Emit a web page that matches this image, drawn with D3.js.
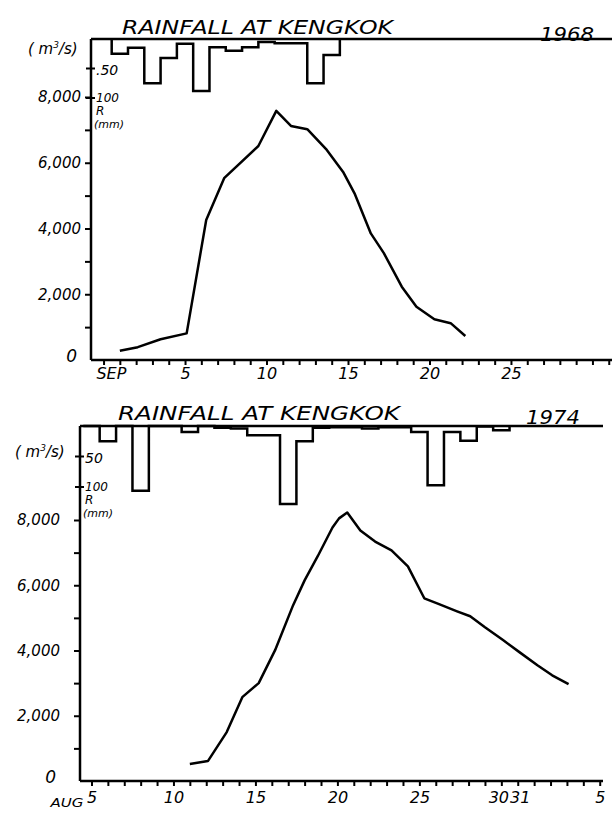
<!DOCTYPE html>
<html>
<head>
<meta charset="utf-8">
<script src="https://cdn.jsdelivr.net/npm/d3@7"></script>
<style>
  body { margin: 0; background: #fff; }
  svg text { font-family: "DejaVu Sans", sans-serif; font-style: italic; fill: #000; }
</style>
</head>
<body>
<svg id="chart"></svg>
<script>
// 1968 panel - September days
let days1968 = [1.0, 2.1, 3.5, 5.1, 6.3, 7.4, 9.5, 10.6, 11.5, 12.5, 13.7, 14.7, 15.4, 16.4, 17.2, 18.3, 19.2, 20.3, 21.3, 22.2];
let flow1968 = [280, 390, 630, 810, 4260, 5530, 6510, 7580, 7120, 7020, 6390, 5720, 5070, 3850, 3250, 2230, 1620, 1240, 1120, 730];
let rainDays1968 = d3.range(1, 15);
let rain1968 = [25, 15, 75, 32, 8, 88, 14, 20, 14, 5, 7, 7, 75, 27];
let dayLabels1968 = { 1: "SEP", 5: "5", 10: "10", 15: "15", 20: "20", 25: "25" };

// 1974 panel - August days (32 = Sep 1)
let days1974 = [11.0, 12.1, 13.25, 14.2, 15.2, 16.2, 17.3, 18.0, 18.8, 19.7, 20.1, 20.6, 21.4, 22.3, 23.3, 24.3, 25.3, 26.2, 27.3, 28.1, 29.0, 30.1, 31.1, 32.2, 33.1, 34.1];
let flow1974 = [520, 610, 1500, 2570, 3000, 4010, 5390, 6150, 6890, 7770, 8050, 8230, 7680, 7340, 7070, 6580, 5600, 5420, 5200, 5050, 4710, 4320, 3950, 3550, 3240, 2970];
let rainDays1974 = d3.range(5, 31);
let rain1974 = [0, 25, 0, 106, 0, 0, 10, 0, 3, 4, 15, 15, 128, 25, 3, 2, 2, 4, 2, 2, 10, 97, 10, 24, 1, 7];
let dayLabels1974 = { 5: "5", 10: "10", 15: "15", 20: "20", 25: "25", 30: "30", 31: "31", 36: "5" };

let flowTicks = d3.range(0, 8001, 1000);
let rainTicks = [50, 100];

const width = 614;
const height = 817;

const svg = d3.select("#chart")
    .attr("width", width)
    .attr("height", height);

function drawPanel(p) {
    const g = svg.append("g");

    let x = d3.scaleLinear().domain(p.xDomain).range([p.left, p.right]);
    let y = d3.scaleLinear().domain([0, 8000]).range([p.bottom, p.y8000]);
    let yR = d3.scaleLinear().domain([0, 100]).range([p.top, p.y100]);

    // frame: top line + left axis
    g.append("line")
        .attr("x1", p.left).attr("x2", p.right)
        .attr("y1", p.top).attr("y2", p.top)
        .attr("stroke", "#000").attr("stroke-width", 2.5);
    g.append("line")
        .attr("x1", p.left).attr("x2", p.left)
        .attr("y1", p.top).attr("y2", p.bottom)
        .attr("stroke", "#000").attr("stroke-width", 2.5);

    // x axis
    let xAxis = d3.axisBottom(x)
        .tickValues(d3.range(p.firstTick, p.lastTick + 1))
        .tickSize(5)
        .tickPadding(p.xPad)
        .tickFormat(d => p.labels[d] || "");
    let xg = g.append("g")
        .attr("transform", `translate(0,${p.bottom})`)
        .call(xAxis);
    xg.select(".domain").remove();
    xg.append("line")
        .attr("x1", p.left).attr("x2", p.right)
        .attr("stroke", "#000").attr("stroke-width", 2.5);
    xg.selectAll(".tick line").attr("stroke-width", 2);
    xg.selectAll("text")
        .attr("font-size", 16)
        .attr("font-family", "DejaVu Sans, sans-serif");
    if (p.xLabelShift) {
        xg.selectAll("text").attr("dx", d => p.xLabelShift[d] || 0);
    }

    // flow axis
    let yAxis = d3.axisLeft(y)
        .tickValues(flowTicks)
        .tickSize(6)
        .tickPadding(p.yPad)
        .tickFormat(d => d % 2000 == 0 ? (d == 0 ? "0" : d3.format(",")(d)) : "");
    let yg = g.append("g")
        .attr("transform", `translate(${p.left},0)`)
        .call(yAxis);
    yg.select(".domain").remove();
    yg.selectAll(".tick line").attr("stroke-width", 2);
    yg.selectAll("text")
        .attr("font-size", 15)
        .attr("font-family", "DejaVu Sans, sans-serif");
    yg.selectAll(".tick").filter(d => d == 0).select("line").remove();
    yg.selectAll(".tick").filter(d => d == 0).select("text")
        .attr("dx", -4).attr("dy", "0.1em").attr("font-size", 17);

    // rain axis crosses + labels
    g.selectAll(".rtick")
        .data(rainTicks)
        .enter()
        .append("line")
        .attr("x1", p.left - 5).attr("x2", p.left + 4)
        .attr("y1", d => yR(d)).attr("y2", d => yR(d))
        .attr("stroke", "#000").attr("stroke-width", 2);
    g.append("text")
        .attr("x", p.left + 5)
        .attr("y", yR(50) + 6)
        .attr("font-size", 14)
        .text(p.dot50 ? ".50" : "50");
    // 100 / R / (mm) stacked
    g.append("text")
        .attr("x", p.left + 5).attr("y", yR(100) + 4)
        .attr("font-size", 12).text("100");
    g.append("text")
        .attr("x", p.left + 5).attr("y", yR(100) + 17)
        .attr("font-size", 12).text("R");
    g.append("text")
        .attr("x", p.left + 3).attr("y", yR(100) + 30)
        .attr("font-size", 11).text("(mm)");

    // flow unit
    let u = g.append("text")
        .attr("x", p.unitX).attr("y", p.unitY)
        .attr("font-size", 15);
    u.append("tspan").text("( m");
    u.append("tspan").attr("font-size", 9).attr("dy", -6).text("3");
    u.append("tspan").attr("dy", 6).text("/s)");

    // title
    g.append("text")
        .attr("x", p.titleX).attr("y", p.titleY)
        .attr("font-size", 19)
        .attr("textLength", p.titleW)
        .attr("lengthAdjust", "spacingAndGlyphs")
        .text("RAINFALL  AT  KENGKOK");
    g.append("text")
        .attr("x", p.yearX).attr("y", p.yearY)
        .attr("font-size", 19)
        .attr("textLength", 54)
        .attr("lengthAdjust", "spacingAndGlyphs")
        .text(p.year);

    // rainfall step outline
    let pts = [[x(p.rainDays[0] - 0.5), yR(0)]];
    p.rainDays.forEach((d, i) => {
        pts.push([x(d - 0.5), yR(p.rain[i])]);
        pts.push([x(d + 0.5), yR(p.rain[i])]);
    });
    pts.push([x(p.rainDays[p.rainDays.length - 1] + 0.5), yR(0)]);
    g.append("path")
        .attr("d", d3.line()(pts))
        .attr("fill", "none")
        .attr("stroke", "#000")
        .attr("stroke-width", 2.5);

    // discharge curve
    let line = d3.line()
        .x((d, i) => x(p.days[i]))
        .y(d => y(d));
    g.append("path")
        .datum(p.flow)
        .attr("d", line)
        .attr("fill", "none")
        .attr("stroke", "#000")
        .attr("stroke-width", 2.5)
        .attr("stroke-linejoin", "round");

    if (p.extra) p.extra(g, x, p);
}

drawPanel({
    year: "1968",
    days: days1968, flow: flow1968,
    rainDays: rainDays1968, rain: rain1968,
    labels: dayLabels1968,
    xDomain: [-0.77, 31.2], left: 91, right: 612,
    top: 39, bottom: 360, y8000: 97, y100: 98,
    firstTick: 0, lastTick: 31,
    xPad: 3, yPad: 4,
    xLabelShift: { 1: -9 },
    dot50: true,
    unitX: 28, unitY: 54,
    titleX: 122, titleY: 34, titleW: 271,
    yearX: 540, yearY: 41
});

drawPanel({
    year: "1974",
    days: days1974, flow: flow1974,
    rainDays: rainDays1974, rain: rain1974,
    labels: dayLabels1974,
    xDomain: [4.3, 36.2], left: 80, right: 603,
    top: 426, bottom: 781, y8000: 520, y100: 487,
    firstTick: 5, lastTick: 36,
    xPad: 6, yPad: 14,
    xLabelShift: { 30: -3, 31: 2 },
    dot50: false,
    unitX: 15, unitY: 457,
    titleX: 118, titleY: 420, titleW: 282,
    yearX: 526, yearY: 424,
    extra: (g, x, p) => {
        g.append("text")
            .attr("x", x(5) - 8).attr("y", p.bottom + 26)
            .attr("text-anchor", "end")
            .attr("font-size", 13)
            .attr("textLength", 33)
            .attr("lengthAdjust", "spacingAndGlyphs")
            .text("AUG");
    }
});
</script>
</body>
</html>
